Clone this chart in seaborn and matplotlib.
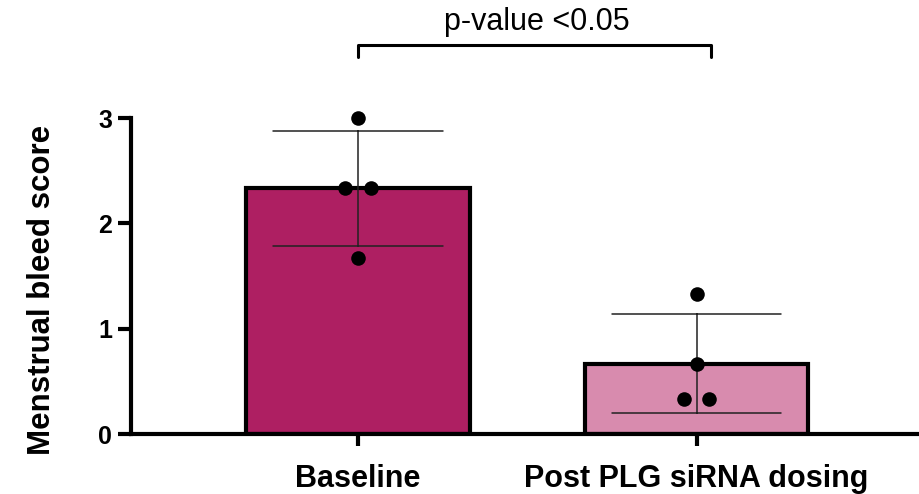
#!/usr/bin/env python3

import pandas as pd
import numpy as np
from matplotlib import pyplot as plt
import seaborn as sns

groups = ["Baseline", "Post PLG siRNA dosing"]
baseline_scores = [3.0, 2.333, 2.333, 1.667]
post_scores = [1.333, 0.667, 0.333, 0.333]
bar_colors = ["#AE1F62", "#D88BAE"]
yticks = [0, 1, 2, 3]
pvalue_label = "p-value <0.05"

df = pd.DataFrame({
    "Group": [groups[0]] * len(baseline_scores) + [groups[1]] * len(post_scores),
    "Score": baseline_scores + post_scores,
})

# symmetric side-by-side spread for tied values (like the prism scatter)
spread = 0.038
offsets = []
for g in groups:
    sub = df[df["Group"] == g]["Score"]
    counts = sub.value_counts()
    seen = {}
    for v in sub:
        n = counts[v]
        k = seen.get(v, 0)
        seen[v] = k + 1
        offsets.append((k - (n - 1) / 2) * 2 * spread)
df["x"] = df["Group"].map({g: i for i, g in enumerate(groups)}) + np.array(offsets)

sns.set_style("ticks")
plt.rcParams["font.family"] = ["Liberation Sans", "DejaVu Sans"]
plt.rcParams["text.color"] = "black"
plt.rcParams["axes.edgecolor"] = "black"
plt.rcParams["xtick.color"] = "black"
plt.rcParams["ytick.color"] = "black"
plt.rcParams["axes.labelcolor"] = "black"

fig = plt.figure(figsize=(9.2, 4.94), dpi=100)
ax = fig.add_axes([131 / 920, 1 - 434 / 494, 1 - 131 / 920, 316 / 494])

sns.barplot(data=df, x="Group", y="Score", order=groups, hue="Group",
            palette=bar_colors, legend=False, width=0.66,
            errorbar="sd", capsize=0.5,
            err_kws={"color": "#222222", "linewidth": 1.1},
            edgecolor="black", linewidth=3, saturation=1, ax=ax)
sns.scatterplot(data=df, x="x", y="Score", color="black", s=110,
                linewidth=0, ax=ax, clip_on=False, zorder=5)

ax.set_xlim(-0.67, 1.66)
ax.set_ylim(0, 3)
ax.set_yticks(yticks)
ax.set_yticklabels([str(t) for t in yticks], fontsize=18, fontweight="bold")
ax.set_xticks(range(len(groups)))
ax.set_xticklabels(groups, fontsize=22, fontweight="bold")
ax.set_xlabel("")
ax.set_ylabel("Menstrual bleed score", fontsize=22.5, fontweight="bold")
ax.yaxis.set_label_coords(-0.094, 0.455)

for side in ["top", "right"]:
    ax.spines[side].set_visible(False)
for side in ["left", "bottom"]:
    ax.spines[side].set_linewidth(3)
ax.tick_params(axis="y", length=9.5, width=3, pad=4)
ax.tick_params(axis="x", length=8.5, width=3, pad=13)

# significance bracket
ax.plot([0, 0, 1.044, 1.044], [3.58, 3.69, 3.69, 3.58], color="black",
        linewidth=2.2, clip_on=False)
ax.text(0.528, 3.91, pvalue_label, ha="center", va="center", fontsize=22)

fig.savefig("out.png", dpi=100)
